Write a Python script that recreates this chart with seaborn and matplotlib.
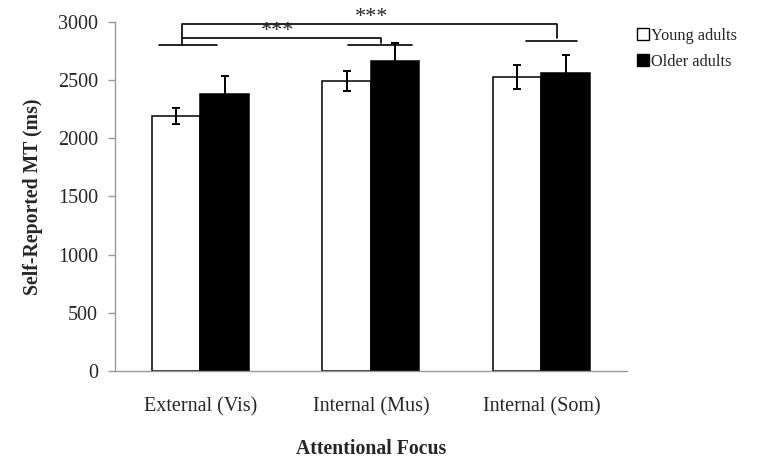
import numpy as np
import pandas as pd
import matplotlib
matplotlib.use("Agg")
import matplotlib.pyplot as plt
import seaborn as sns
from matplotlib.patches import Patch

# Data
focus = ['External (Vis)', 'Internal (Mus)', 'Internal (Som)']
groups = ['Young adults', 'Older adults']
young_mean = [2192, 2493, 2527]
young_err = [72, 86, 101]
older_mean = [2385, 2662, 2565]
older_err = [148, 161, 155]

df = pd.DataFrame({
    'Focus': focus * 2,
    'Group': [groups[0]] * 3 + [groups[1]] * 3,
    'MT': young_mean + older_mean,
})

sns.set_style('white')
plt.rcParams['font.family'] = ['Liberation Serif', 'DejaVu Serif']

fig = plt.figure(figsize=(7.71, 4.70), dpi=100)
ax = fig.add_axes([0.149, 0.211, 0.664, 0.742])

sns.barplot(data=df, x='Focus', y='MT', hue='Group', order=focus, hue_order=groups,
            palette=['white', 'black'], edgecolor='black', linewidth=1.1,
            width=0.57, errorbar=None, legend=False, ax=ax)

# Error bars
for cont, errs in zip(ax.containers, [young_err, older_err]):
    for bar, e in zip(cont, errs):
        cx = bar.get_x() + bar.get_width() / 2
        ax.errorbar(cx, bar.get_height(), yerr=e, fmt='none', ecolor='black',
                    elinewidth=1.4, capsize=3, capthick=1.4, zorder=5)

ax.set_xlim(-0.5, 2.5)
ax.set_ylim(0, 3000)
ax.set_yticks(np.arange(0, 3001, 500))
ax.set_xticks([-0.5, 0.5, 1.5, 2.5], minor=True)
ax.tick_params(axis='x', which='major', length=0, labelsize=14.5, pad=19)
ax.tick_params(axis='x', which='minor', length=5, width=1, color='#999999', direction='out')
ax.tick_params(axis='y', length=5, width=1, color='#999999', direction='out',
               labelsize=14.5, left=True, pad=7)
for s in ['top', 'right']:
    ax.spines[s].set_visible(False)
for s in ['left', 'bottom']:
    ax.spines[s].set_color('#999999')
    ax.spines[s].set_linewidth(1.0)

ax.set_xlabel('Attentional Focus', fontsize=14.2, fontweight='bold', labelpad=16)
ax.set_ylabel('Self-Reported MT (ms)', fontsize=14.2, fontweight='bold', labelpad=11)

# Significance brackets
lk = dict(color='black', lw=1.2, clip_on=False)
ax.plot([-0.243, 0.096], [2800, 2800], **lk)
ax.plot([0.867, 1.243], [2800, 2800], **lk)
ax.plot([1.909, 2.208], [2837, 2837], **lk)
ax.plot([-0.104, -0.104, 2.089, 2.089], [2800, 2986, 2986, 2866], **lk)
ax.plot([-0.104, 1.06, 1.06], [2866, 2866, 2820], **lk)
ax.text(1.007, 3003, '***', ha='center', va='baseline', fontsize=16)
ax.text(0.451, 2883, '***', ha='center', va='baseline', fontsize=16)

handles = [Patch(facecolor='white', edgecolor='black', linewidth=1.0),
           Patch(facecolor='black', edgecolor='black', linewidth=1.0)]
fig.legend(handles, groups, loc='upper left', bbox_to_anchor=(0.818, 0.955),
           frameon=False, fontsize=11.7, handlelength=0.7, handleheight=0.7,
           handletextpad=0.15, labelspacing=0.62, borderaxespad=0)

fig.savefig('out.png', dpi=100)
